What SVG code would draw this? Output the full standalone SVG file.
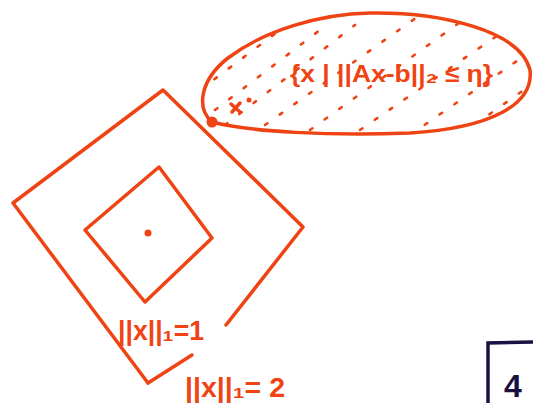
<svg xmlns="http://www.w3.org/2000/svg" width="533" height="403" viewBox="0 0 533 403">
<style>
.o{fill:none;stroke:#ef4313;stroke-width:3.5;stroke-linecap:round;stroke-linejoin:round}
.d{fill:none;stroke:#ef4313;stroke-width:2.6;stroke-linecap:round;stroke-dasharray:3 15}
.t{fill:#ef4313;font-family:"Liberation Sans",Arial,sans-serif;font-weight:bold}
</style>
<defs>
<clipPath id="ec"><path d="M212,122 C196,108 200,80 228,58 C265,30 320,14 370,13 C440,12 520,30 530,70 C534,105 490,128 410,133 C330,136 250,132 212,122 Z"/></clipPath>
</defs>
<rect width="533" height="403" fill="#fff"/>
<g id="outer">
<path class="o" d="M148,383 L13,203 L163,90 L303,227 L226,325"/>
<path class="o" d="M148,383 L192,355"/>
</g>
<g id="inner">
<path class="o" d="M85,230 L159,167 L212,238 L145,302 Z"/>
<circle cx="148" cy="233" r="3.5" fill="#ef4313"/>
</g>
<g id="set">
<path class="o" d="M212,122 C196,108 200,80 228,58 C265,30 320,14 370,13 C440,12 520,30 530,70 C534,105 490,128 410,133 C330,136 250,132 212,122 Z"/>
<g clip-path="url(#ec)">
<path class="d" d="M215,110 L320,30"/>
<path class="d" d="M225,125 L355,25"/>
<path class="d" d="M265,125 L420,15"/>
<path class="d" d="M310,130 L470,15"/>
<path class="d" d="M360,130 L520,20"/>
<path class="d" d="M410,135 L540,45"/>
<path class="d" d="M460,135 L545,75"/>
<path class="d" d="M200,90 L280,30"/>
</g>
<text class="t" x="290" y="82" font-size="24" textLength="203" lengthAdjust="spacingAndGlyphs">{x | ||Ax-b||₂ ≤ η}</text>
<circle cx="212" cy="122" r="5.5" fill="#ef4313"/>
<path class="o" stroke-width="2.4" d="M231,104 L240,112 M240,103 L232,112"/>
<circle cx="249" cy="100" r="2.5" fill="#ef4313"/>
</g>
<g id="labels">
<text class="t" x="118" y="340" font-size="27" textLength="86" lengthAdjust="spacingAndGlyphs">||x||₁=1</text>
<text class="t" x="185" y="397" font-size="27" textLength="100" lengthAdjust="spacingAndGlyphs">||x||₁= 2</text>
</g>
<g id="box4">
<path d="M488,403 L488,343 L533,342" fill="none" stroke="#1c1040" stroke-width="3.5"/>
<text x="504" y="397" font-family="Liberation Sans,Arial,sans-serif" font-weight="bold" font-size="32" fill="#1c1040">4</text>
</g>
</svg>
